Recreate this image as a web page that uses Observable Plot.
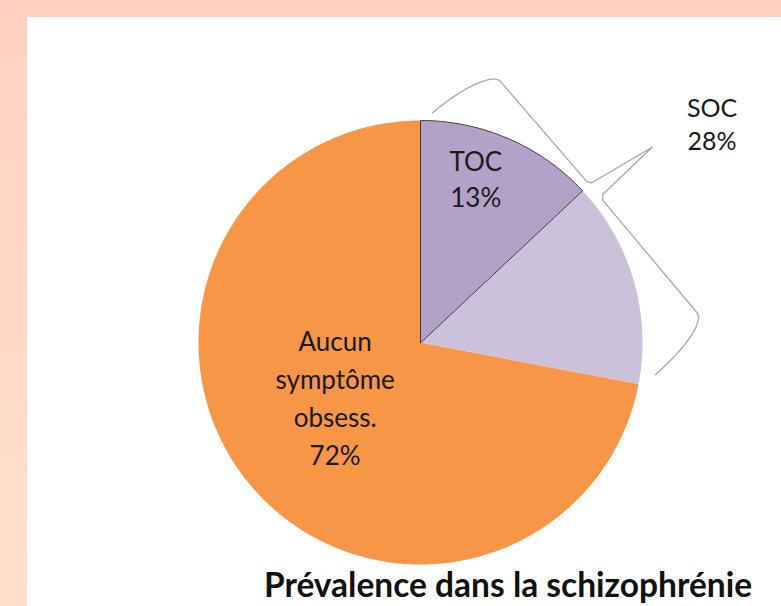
<!DOCTYPE html>
<html>
<head>
<meta charset="utf-8">
<script src="https://cdn.jsdelivr.net/npm/d3@7"></script>
<script src="https://cdn.jsdelivr.net/npm/@observablehq/plot@0.6"></script>
<style>
  html, body { margin: 0; padding: 0; }
  #wrap { position: relative; width: 781px; height: 606px; overflow: hidden;
          background: linear-gradient(#FFD0C2, #FFE0CD); }
  #panel { position: absolute; left: 27px; top: 17px; right: 0; bottom: 0; background: #ffffff; }
  #chart { position: absolute; left: 0; top: 0; }
  #title { position: absolute; left: 208px; width: 600px; top: 568px; text-align: center;
           font-family: Lato, "Open Sans", sans-serif; font-weight: bold; font-size: 33.5px;
           line-height: 32px; color: #111; white-space: nowrap; }
</style>
</head>
<body>
<div id="wrap">
  <div id="panel"></div>
  <div id="chart"></div>
  <div id="title"></div>
</div>
<script>
// ---- data ----
const categories = ["TOC", "SOC sans TOC", "Aucun symptôme obsess."];
const values = [13, 15, 72];
const sliceLabels = ["TOC\n13%", "", "Aucun\nsymptôme\nobsess.\n72%"];
const colors = ["#B2A2C7", "#CCC1DA", "#F79646"];
const groupName = "SOC";
const groupValue = 28;          // TOC + SOC sans TOC
const groupMembers = [0, 1];
const title = "Prévalence dans la schizophrénie";

document.getElementById("title").textContent = title;

// ---- geometry (unit circle, angle clockwise from top) ----
const total = d3.sum(values);
const starts = [];
{ let acc = 0; for (const v of values) { starts.push(acc); acc += v; } }
const ang = f => f / total * 2 * Math.PI;
const polar = (a, r) => ({x: r * Math.sin(a), y: r * Math.cos(a)});

function slicePoints(i) {
  const a0 = ang(starts[i]), a1 = ang(starts[i] + values[i]);
  const n = Math.max(2, Math.ceil((a1 - a0) / (Math.PI / 360)));
  const pts = [{x: 0, y: 0, cat: categories[i]}];
  for (let k = 0; k <= n; k++) {
    const p = polar(a0 + (a1 - a0) * k / n, 1);
    pts.push({...p, cat: categories[i]});
  }
  return pts;
}

// brace around the SOC group
const PX = 222; // px per unit
const gStart = ang(starts[groupMembers[0]]);
const gEnd = ang(starts[groupMembers[0]] + groupValue);
const deg = Math.PI / 180;
const P0 = polar(gStart + 3 * deg, 1.036);
const P1 = polar(gEnd - 3 * deg, 1.067);
const L = Math.hypot(P1.x - P0.x, P1.y - P0.y) * PX;
const u = {x: (P1.x - P0.x) / (L / PX), y: (P1.y - P0.y) / (L / PX)};
const nrm = {x: -u.y, y: u.x};
const prof = [];
const rEnd = 20, depth = 72, tip = 145, tipS = 0.49 * L;
for (let k = 0; k <= 12; k++) { const t = k / 12 * Math.PI / 2; prof.push([rEnd - rEnd * Math.cos(t), depth * Math.sin(t)]); }
prof.push([tipS - 16, depth + 1], [tipS - 12, depth + 4], [tipS, tip], [tipS + 4, depth + 5], [tipS + 8, depth + 1]);
for (let k = 0; k <= 12; k++) { const t = k / 12 * Math.PI / 2; prof.push([L - rEnd + rEnd * Math.sin(t), depth * Math.cos(t)]); }
const bracePts = prof.map(([s, t]) => ({
  x: P0.x + (u.x * s + nrm.x * t) / PX,
  y: P0.y + (u.y * s + nrm.y * t) / PX
}));

// labels
const labelData = [];
const labelTweaks = [{r: 0.74, dx: -10, dy: -14, lh: 1.38}, null, {r: 0.47, dx: -5, dy: -13, lh: 1.46}];
values.forEach((v, i) => {
  if (!sliceLabels[i]) return;
  const tw = labelTweaks[i];
  const p = polar(ang(starts[i] + v / 2), tw.r);
  labelData.push({x: p.x + tw.dx / PX, y: p.y - tw.dy / PX, text: sliceLabels[i], lh: tw.lh});
});
const gl = polar(gStart + 53.7 * deg, 1.63);
const groupLabel = [{x: gl.x, y: gl.y + 5 / PX, text: `${groupName}\n${groupValue}%`}];

const font = "Lato, 'Open Sans', sans-serif";
const order = [2, 1, 0];
const chart = Plot.plot({
  width: 781,
  height: 606,
  margin: 0,
  x: {domain: [-420 / PX, 361 / PX], axis: null},
  y: {domain: [-264 / PX, 342 / PX], axis: null},
  style: {background: "transparent", fontFamily: font},
  marks: [
    ...order.map(i => Plot.line(slicePoints(i), {
      x: "x", y: "y", curve: "linear-closed",
      fill: colors[i],
      stroke: i === 0 ? "#3a3a3a" : "none",
      strokeWidth: i === 0 ? 1 : 0
    })),
    Plot.line(bracePts, {x: "x", y: "y", stroke: "#A8A8A8", strokeWidth: 1.3, curve: "linear"}),
    ...labelData.map(d => Plot.text([d], {
      x: "x", y: "y", text: "text", fontSize: 26, lineHeight: d.lh, fill: "#1a1a1a", lineAnchor: "middle"
    })),
    Plot.text(groupLabel, {x: "x", y: "y", text: "text", fontSize: 25, lineHeight: 1.3, fill: "#1a1a1a", lineAnchor: "middle"})
  ]
});
document.getElementById("chart").appendChild(chart);
</script>
</body>
</html>
